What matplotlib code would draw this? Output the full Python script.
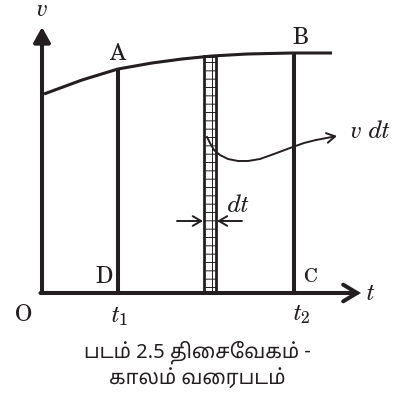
import numpy as np
import matplotlib
matplotlib.use("Agg")
import matplotlib.pyplot as plt

# v-t curve (t, v in pixel-like units, origin at O)
curve_t = [2, 40, 76, 110, 140, 170, 205, 250, 290]
curve_v = [199, 213, 224, 230, 234, 237, 239, 240, 240]

t1 = 76
t2 = 252
strip_left = 162
strip_width = 12

# the little "v dt" pointer curve
ptr_t = [165, 168, 172, 178, 186, 196, 206, 218, 232, 248, 262, 274]
ptr_v = [156, 150, 143, 138, 134, 132, 132, 134, 139, 145, 150, 153]
ptr_tip = (295, 157)

ink = "#231f20"
serif = ["TeX Gyre Schola", "DejaVu Serif"]
plt.rcParams["mathtext.fontset"] = "custom"
plt.rcParams["mathtext.it"] = "TeX Gyre Schola:italic"
plt.rcParams["mathtext.rm"] = "TeX Gyre Schola"
plt.rcParams["hatch.linewidth"] = 0.7
plt.rcParams["hatch.color"] = ink

fig = plt.figure(figsize=(3.97, 3.96), dpi=100)
ax = fig.add_axes([0, 0, 1, 1])
ax.set_xlim(-42, 355)
ax.set_ylim(-103, 293)
ax.axis("off")

# axes with arrows
ax.annotate("", xy=(0, 266), xytext=(0, 0),
            arrowprops=dict(arrowstyle="-|>,head_length=0.9,head_width=0.5",
                            mutation_scale=10, lw=2.9, color=ink,
                            shrinkA=0, shrinkB=0))
ax.annotate("", xy=(319, 0), xytext=(-1.5, 0),
            arrowprops=dict(arrowstyle="->,head_length=1.0,head_width=0.6",
                            mutation_scale=10, lw=2.9, color=ink,
                            shrinkA=0, shrinkB=0, joinstyle="miter"))

# curve
ax.plot(curve_t, curve_v, color=ink, lw=2.2, solid_capstyle="butt")

# verticals at t1, t2
va = np.interp(t1, curve_t, curve_v)
vb = np.interp(t2, curve_t, curve_v)
ax.vlines([t1, t2], 0, [va, vb], color=ink, lw=2.9)

# strip of width dt
vs = np.interp(strip_left + strip_width / 2, curve_t, curve_v)
ax.bar(strip_left, vs, width=strip_width, align="edge", fill=False,
       hatch="++", edgecolor=ink, lw=2.0)

# dt arrows
ax.annotate("", xy=(strip_left - 1, 72), xytext=(135, 72),
            arrowprops=dict(arrowstyle="->,head_length=0.6,head_width=0.35",
                            mutation_scale=10, lw=1.4, color=ink,
                            shrinkA=0, shrinkB=0))
ax.annotate("", xy=(strip_left + strip_width + 1, 72), xytext=(200, 72),
            arrowprops=dict(arrowstyle="->,head_length=0.6,head_width=0.35",
                            mutation_scale=10, lw=1.4, color=ink,
                            shrinkA=0, shrinkB=0))

# pointer to v dt
ax.plot(ptr_t, ptr_v, color=ink, lw=1.4)
ax.annotate("", xy=ptr_tip, xytext=(ptr_t[-1], ptr_v[-1]),
            arrowprops=dict(arrowstyle="->,head_length=0.6,head_width=0.35",
                            mutation_scale=10, lw=1.4, color=ink,
                            shrinkA=0, shrinkB=0))

# labels
kw = dict(family=serif, color=ink, ha="center", va="center")
ax.text(75, 239.5, "A", fontsize=16, **kw)
ax.text(258, 255, "B", fontsize=16, **kw)
ax.text(62, 16, "D", fontsize=16, **kw)
ax.text(268, 16, "C", fontsize=14, **kw)
ax.text(-18, -22, "O", fontsize=16, **kw)
ax.text(78, -24, r"$t_{\mathit{1}}$", fontsize=16, **kw)
ax.text(260, -22, r"$t_{\mathit{2}}$", fontsize=16, **kw)
ax.text(329, -1, r"$t$", fontsize=16, **kw)
ax.text(0, 277, r"$v$", fontsize=16, family=serif, color=ink,
        ha="center", va="baseline")
ax.text(329, 161, r"$v\ dt$", fontsize=16, **kw)
ax.text(196, 87, r"$dt$", fontsize=16, **kw)

# matplotlib does not reorder Tamil prefix vowels, so they are
# written in visual order here
tamil = ["Noto Sans Tamil", "DejaVu Sans"]
fig.text(0.497, 1 - 352 / 396, "படம் 2.5 திைசேவகம் -", family=tamil,
         fontsize=14.5, ha="center", va="center", color=ink)
fig.text(0.497, 1 - 379 / 396, "காலம் வைரபடம்", family=tamil,
         fontsize=14.5, ha="center", va="center", color=ink)

fig.savefig("out.png", dpi=100)
